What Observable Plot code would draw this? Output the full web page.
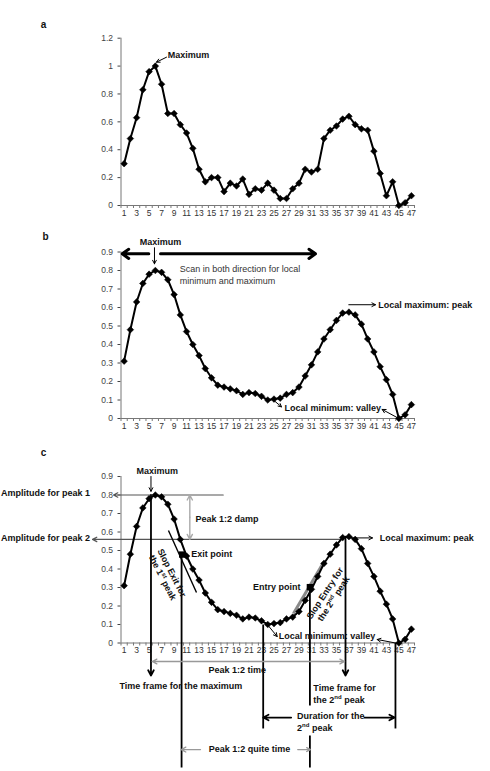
<!DOCTYPE html>
<html>
<head>
<meta charset="utf-8">
<script src="https://cdn.jsdelivr.net/npm/d3@7"></script>
<script src="https://cdn.jsdelivr.net/npm/@observablehq/plot@0.6"></script>
<style>
  html, body { margin: 0; padding: 0; background: #fff; }
  body { width: 490px; height: 771px; overflow: hidden; }
  svg { display: block; }
</style>
</head>
<body>
<script>
// ---------- data ----------
const periods = [1,2,3,4,5,6,7,8,9,10,11,12,13,14,15,16,17,18,19,20,21,22,23,24,25,26,27,28,29,30,31,32,33,34,35,36,37,38,39,40,41,42,43,44,45,46,47];
const valuesA = [0.30,0.48,0.63,0.83,0.96,1.00,0.87,0.66,0.66,0.58,0.52,0.41,0.26,0.17,0.20,0.20,0.10,0.16,0.14,0.19,0.08,0.12,0.11,0.16,0.11,0.05,0.05,0.12,0.16,0.26,0.24,0.26,0.48,0.54,0.57,0.62,0.64,0.58,0.55,0.54,0.39,0.23,0.07,0.17,0.00,0.02,0.07];
const valuesB = [0.31,0.48,0.63,0.73,0.78,0.80,0.79,0.75,0.67,0.56,0.47,0.40,0.34,0.27,0.22,0.18,0.17,0.16,0.15,0.13,0.14,0.135,0.12,0.10,0.105,0.11,0.13,0.14,0.17,0.23,0.29,0.36,0.43,0.48,0.53,0.57,0.575,0.56,0.51,0.43,0.36,0.28,0.21,0.13,0.00,0.02,0.075];
const valuesC = [0.31,0.48,0.63,0.73,0.78,0.80,0.79,0.75,0.67,0.56,0.47,0.40,0.34,0.27,0.22,0.18,0.17,0.16,0.15,0.13,0.14,0.135,0.12,0.10,0.105,0.11,0.13,0.14,0.17,0.23,0.29,0.36,0.43,0.48,0.53,0.57,0.575,0.56,0.51,0.43,0.36,0.28,0.21,0.13,0.00,0.02,0.075];
const yTicksA = [0,0.2,0.4,0.6,0.8,1,1.2];
const yTicksB = [0,0.1,0.2,0.3,0.4,0.5,0.6,0.7,0.8,0.9];
const yTicksC = [0,0.1,0.2,0.3,0.4,0.5,0.6,0.7,0.8,0.9];
const xTickLabels = [1,3,5,7,9,11,13,15,17,19,21,23,25,27,29,31,33,35,37,39,41,43,45,47];
const xTickMarks = d3.range(0.5, 48, 1);

// ---------- helpers ----------
const FONT = "'Liberation Sans', Arial, Helvetica, sans-serif";
const rows = vals => periods.map((p, i) => ({period: p, value: vals[i]}));

function frame(yTicks, ymax) {
  return [
    Plot.axisX(xTickMarks, {tickSize: 3, tickFormat: () => "", color: "#777", label: null}),
    Plot.axisX(xTickLabels, {tickSize: 0, tickPadding: 4, fontSize: 8.5, color: "#333", label: null}),
    Plot.axisY(yTicks, {tickSize: 3, tickPadding: 5, tickFormat: d => `${d}`, fontSize: 8.5, color: "#444", label: null}),
    Plot.ruleY([0], {x1: 0.5, x2: 47.5, stroke: "#777"}),
    Plot.ruleX([0.5], {y1: 0, y2: ymax, stroke: "#777"})
  ];
}
function series(vals) {
  return [
    Plot.line(rows(vals), {x: "period", y: "value", stroke: "#000", strokeWidth: 2}),
    Plot.dot(rows(vals), {x: "period", y: "value", symbol: "diamond2", r: 3, fill: "#000", stroke: "#000", strokeWidth: 0.5})
  ];
}
const A = (x1, y1, x2, y2, o = {}) => Plot.arrow([0], {x1, y1, x2, y2, stroke: "#000", strokeWidth: 1.2, headLength: 6, headAngle: 55, ...o});
const L = (x1, y1, x2, y2, o = {}) => Plot.link([0], {x1, y1, x2, y2, stroke: "#000", strokeWidth: 1.8, ...o});
const T = (text, x, y, o = {}) => Plot.text([text], {x, y, text: d => d, fontWeight: "bold", fontSize: 9, fill: "#111", ...o});

function base(height, marginTop, marginBottom, ymax, marks) {
  return Plot.plot({
    width: 490, height, marginLeft: 120.5, marginRight: 76, marginTop, marginBottom,
    x: {type: "linear", domain: [0.5, 47.5], label: null},
    y: {domain: [0, ymax], label: null},
    style: {fontFamily: FONT, fontSize: "9px", background: "#fff", color: "#000", overflow: "visible"},
    marks
  });
}

// ---------- panel a ----------
const plotA = base(225, 37.7, 20, 1.2, [
  ...frame(yTicksA, 1.2),
  ...series(valuesA),
  T("a", -11.9, 1.298, {fontSize: 10}),
  T("Maximum", 8.0, 1.076, {textAnchor: "start"}),
  A(7.79, 1.064, 6.18, 1.028, {strokeWidth: 1})
]);

// ---------- panel b ----------
const plotB = base(210, 26.5, 17, 0.9, [
  ...frame(yTicksB, 0.9),
  ...series(valuesB),
  T("b", -11.6, 0.984, {fontSize: 10}),
  T("Maximum", 6.83, 0.953),
  A(5.86, 0.923, 5.86, 0.836, {strokeWidth: 1}),
  A(4.95, 0.89, 0.69, 0.89, {strokeWidth: 3, headLength: 4, headAngle: 70}),
  A(6.83, 0.89, 31.65, 0.89, {strokeWidth: 3, headLength: 4, headAngle: 70}),
  T("Scan in both direction for local\nminimum and maximum", 9.9, 0.781, {textAnchor: "start", fontWeight: "normal", fill: "#333", lineHeight: 1.29}),
  A(36.98, 0.615, 41.25, 0.615, {strokeWidth: 1}),
  T("Local maximum: peak", 41.7, 0.615, {textAnchor: "start"}),
  A(24.9, 0.10, 26.2, 0.063, {strokeWidth: 1}),
  T("Local minimum: valley", 26.68, 0.056, {textAnchor: "start"}),
  A(45.0, 0.0, 42.32, 0.049, {strokeWidth: 1})
]);

// ---------- panel c ----------
const plotC = base(336, 41, 128.5, 0.9, [
  ...frame(yTicksC, 0.9),
  // amplitude lines
  A(16.87, 0.8, -0.7, 0.8, {stroke: "#555", strokeWidth: 1.2}),
  A(36.1, 0.56, -4.06, 0.56, {stroke: "#555", strokeWidth: 1.2}),
  T("Amplitude for peak 1", -4.45, 0.808, {textAnchor: "end"}),
  T("Amplitude for peak 2", -4.45, 0.566, {textAnchor: "end"}),
  // damp
  A(11.52, 0.68, 11.52, 0.8, {stroke: "#aaa", strokeWidth: 1.4}),
  A(11.52, 0.68, 11.52, 0.56, {stroke: "#aaa", strokeWidth: 1.4}),
  T("Peak 1:2 damp", 12.43, 0.668, {textAnchor: "start"}),
  // tangents
  L(28.12, 0.159, 32.93, 0.435, {stroke: "#8a8a8a", strokeWidth: 3}),
  ...series(valuesC),
  L(8.1, 0.608, 12.59, 0.273, {strokeWidth: 1.4}),
  // maximum
  T("Maximum", 6.3, 0.929),
  A(5.3, 0.9, 5.3, 0.82, {strokeWidth: 1}),
  A(5.3, 0.80, 5.3, -0.176, {strokeWidth: 1.8, headLength: 5}),
  // exit
  Plot.dot([0], {x: 10.3, y: 0.478, symbol: "square", r: 3.6, fill: "#000"}),
  L(10.2, 0.478, 10.2, -0.673),
  T("Exit point", 11.74, 0.478, {textAnchor: "start"}),
  T("Slop Exit for\nthe 1st peak", 7.95, 0.367, {rotate: 63, lineHeight: 1.15}),
  // entry
  Plot.dot([0], {x: 30.75, y: 0.302, symbol: "square", r: 3.6, fill: "#000"}),
  L(30.75, 0.302, 30.75, -0.338),
  L(30.75, -0.50, 30.75, -0.673),
  T("Entry point", 29.24, 0.30, {textAnchor: "end"}),
  T("Slop Entry for\nthe 2nd peak", 33.8, 0.255, {rotate: -57, lineHeight: 1.15}),
  // valley
  L(23.27, 0.10, 23.27, -0.462),
  A(23.64, 0.112, 25.51, 0.035, {strokeWidth: 1}),
  T("Local minimum: valley", 25.77, 0.035, {textAnchor: "start"}),
  A(44.93, -0.003, 41.52, 0.019, {strokeWidth: 1}),
  L(44.45, 0.0, 44.45, -0.462),
  // second peak
  A(36.45, 0.575, 36.45, -0.176, {strokeWidth: 1.8, headLength: 5}),
  A(37.73, 0.568, 40.77, 0.568, {strokeWidth: 1}),
  T("Local maximum: peak", 41.94, 0.568, {textAnchor: "start"}),
  // peak 1:2 time
  A(20.9, -0.1, 5.5, -0.1, {stroke: "#999", strokeWidth: 1.3}),
  A(20.9, -0.1, 36.3, -0.1, {stroke: "#999", strokeWidth: 1.3}),
  T("Peak 1:2 time", 19.1, -0.149),
  T("Time frame for the maximum", 0.26, -0.234, {textAnchor: "start"}),
  T("Time frame for\nthe 2nd peak", 31.3, -0.273, {textAnchor: "start", lineHeight: 1.26}),
  // duration
  A(27.75, -0.403, 23.27, -0.403, {strokeWidth: 1.8, headLength: 5}),
  A(39.5, -0.403, 44.33, -0.403, {strokeWidth: 1.8, headLength: 5}),
  T("Duration for the\n2nd peak", 28.7, -0.423, {textAnchor: "start", lineHeight: 1.3}),
  // quiet time
  A(13.23, -0.576, 10.14, -0.576, {stroke: "#999", strokeWidth: 1.3}),
  A(28.8, -0.576, 30.84, -0.576, {stroke: "#999", strokeWidth: 1.3}),
  T("Peak 1:2 quite time", 21.08, -0.574),
  T("c", -11.9, 1.03, {fontSize: 10})
]);

// superscripts for ordinal suffixes (1st, 2nd)
function sup(svg) {
  const ns = "http://www.w3.org/2000/svg";
  svg.querySelectorAll("text, tspan").forEach(el => {
    if (el.childElementCount) return;
    const t = el.textContent;
    const m = t.match(/^(.*\d)(st|nd)(\s.*)$/);
    if (!m) return;
    el.textContent = m[1];
    const s = document.createElementNS(ns, "tspan");
    s.setAttribute("dy", "-3.5");
    s.setAttribute("font-size", "6");
    s.textContent = m[2];
    const r = document.createElementNS(ns, "tspan");
    r.setAttribute("dy", "3.5");
    r.textContent = m[3];
    el.append(s, r);
  });
}
[plotA, plotB, plotC].forEach(p => { sup(p); document.body.appendChild(p); });
</script>
</body>
</html>
